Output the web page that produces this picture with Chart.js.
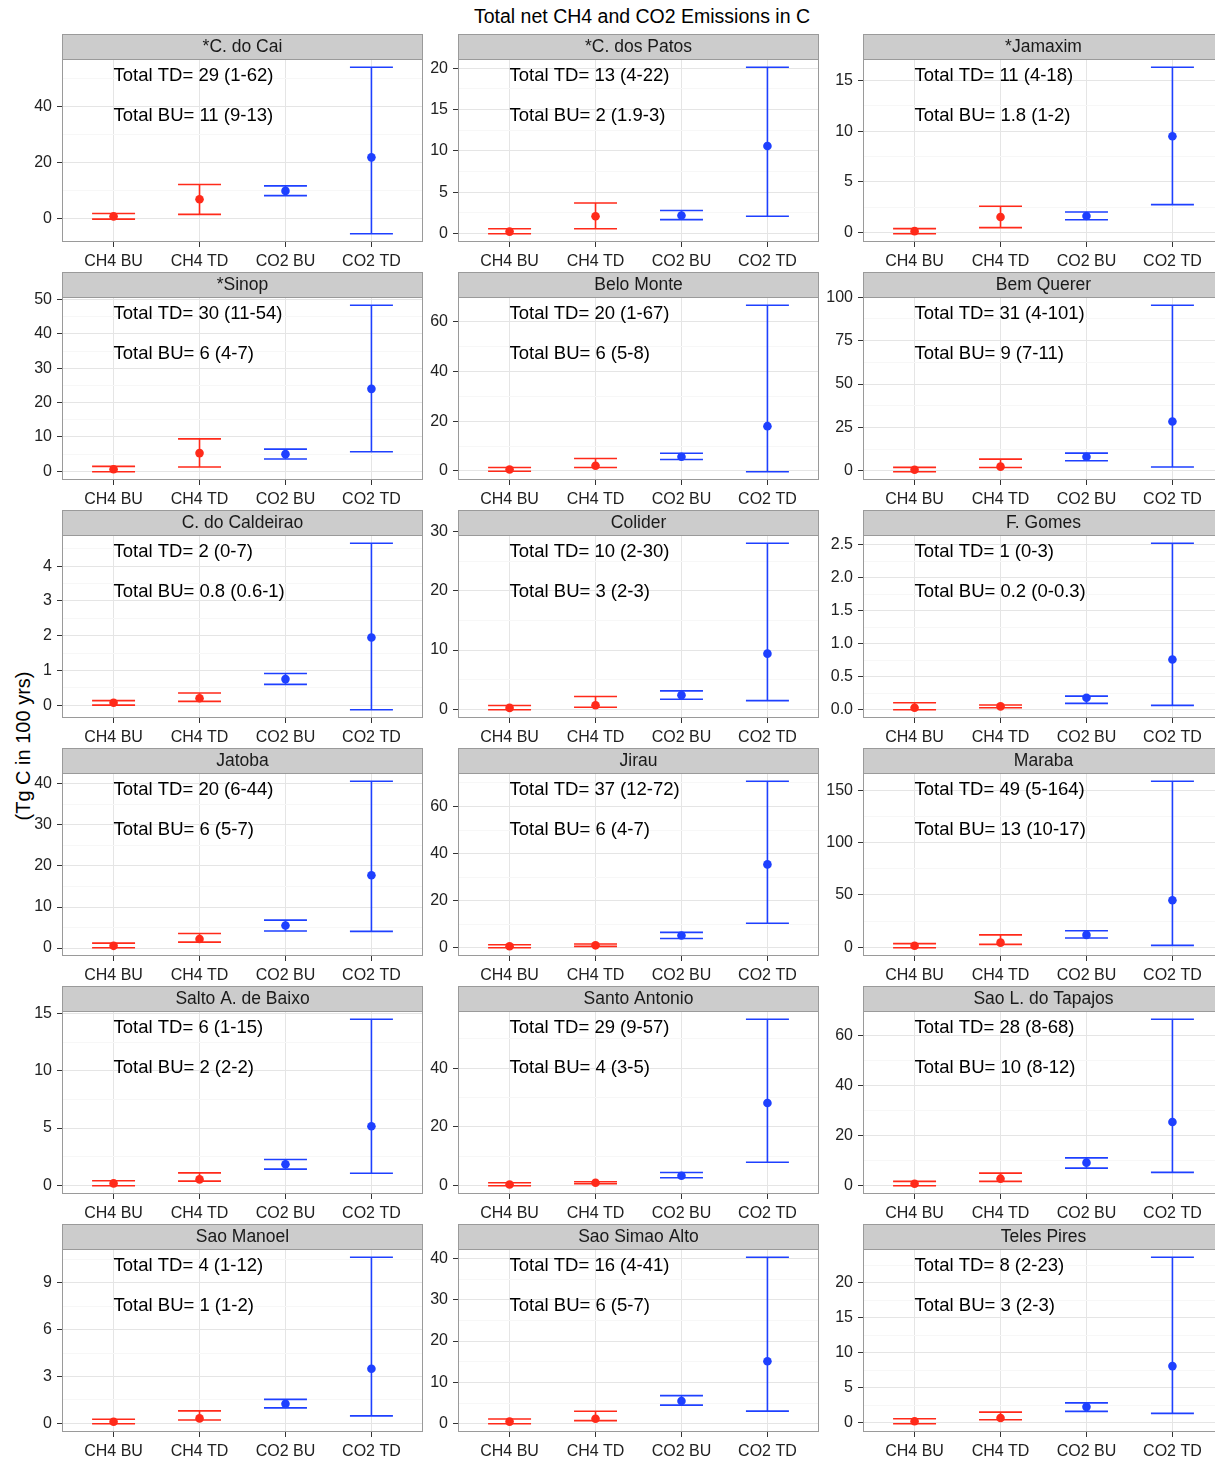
<!DOCTYPE html>
<html>
<head>
<meta charset="utf-8">
<script src="https://cdn.jsdelivr.net/npm/chart.js@4.4.1/dist/chart.umd.min.js"></script>
<style>
  html, body { margin: 0; padding: 0; background: #fff; }
  body { width: 1215px; height: 1458px; position: relative; overflow: hidden;
         font-family: "Liberation Sans", Arial, sans-serif; }
  #title { position: absolute; left: 0; top: 5px; width: 1284px; text-align: center;
           font-size: 19.5px; color: #000; }
  #ytitle { position: absolute; left: 23px; top: 746px; white-space: nowrap;
            transform: translate(-50%, -50%) rotate(-90deg); font-size: 20px; color: #000; }
  canvas { position: absolute; }
</style>
</head>
<body>
<div id="title">Total net CH4 and CO2 Emissions in C</div>
<div id="ytitle">(Tg C in 100 yrs)</div>
<script>
// Reservoirs, one facet each (3 columns x 6 rows)
const sites = [
  '*C. do Cai', '*C. dos Patos', '*Jamaxim',
  '*Sinop', 'Belo Monte', 'Bem Querer',
  'C. do Caldeirao', 'Colider', 'F. Gomes',
  'Jatoba', 'Jirau', 'Maraba',
  'Salto A. de Baixo', 'Santo Antonio', 'Sao L. do Tapajos',
  'Sao Manoel', 'Sao Simao Alto', 'Teles Pires'
];

const categories = ['CH4 BU', 'CH4 TD', 'CO2 BU', 'CO2 TD'];

// Central estimate per category (Tg C in 100 yrs)
const centre = [
  [0.7, 6.8, 9.8, 21.8],
  [0.25, 2.1, 2.2, 10.6],
  [0.15, 1.55, 1.65, 9.5],
  [0.6, 5.3, 5.0, 24.0],
  [0.6, 2.1, 5.7, 18.0],
  [0.7, 2.5, 8.2, 28.5],
  [0.07, 0.2, 0.75, 1.95],
  [0.25, 0.7, 2.4, 9.4],
  [0.03, 0.05, 0.18, 0.76],
  [0.55, 2.2, 5.5, 17.75],
  [0.6, 1.0, 5.2, 35.4],
  [1.5, 4.5, 11.9, 44.9],
  [0.17, 0.52, 1.84, 5.15],
  [0.4, 1.0, 3.4, 28.2],
  [0.8, 2.8, 9.2, 25.4],
  [0.1, 0.32, 1.25, 3.5],
  [0.5, 1.2, 5.5, 15.1],
  [0.25, 0.7, 2.3, 8.1]
];

// Lower end of each range
const lower = [
  [-0.3, 1.4, 8.1, -5.5],
  [0.0, 0.6, 1.7, 2.1],
  [-0.1, 0.5, 1.27, 2.76],
  [-0.1, 1.25, 3.6, 5.7],
  [-0.1, 1.4, 4.6, -0.3],
  [-0.4, 2.0, 5.9, 2.3],
  [0.0, 0.11, 0.6, -0.13],
  [-0.05, 0.35, 1.7, 1.47],
  [0.0, 0.03, 0.096, 0.065],
  [0.1, 1.45, 4.15, 4.08],
  [0.0, 0.56, 3.9, 10.4],
  [-0.3, 2.9, 9.0, 1.9],
  [-0.03, 0.37, 1.41, 1.06],
  [0.0, 0.68, 2.7, 8.0],
  [0.0, 1.7, 7.0, 5.3],
  [-0.02, 0.22, 0.99, 0.48],
  [0.0, 0.74, 4.5, 3.03],
  [-0.1, 0.47, 1.65, 1.37]
];

// Upper end of each range
const upper = [
  [1.7, 12.1, 11.6, 54.0],
  [0.6, 3.7, 2.8, 20.1],
  [0.4, 2.6, 2.04, 16.3],
  [1.45, 9.45, 6.45, 48.3],
  [1.4, 5.0, 7.1, 66.6],
  [2.1, 6.8, 10.3, 95.3],
  [0.13, 0.35, 0.91, 4.66],
  [0.65, 2.17, 3.12, 28.0],
  [0.105, 0.07, 0.206, 2.52],
  [1.2, 3.57, 6.8, 40.6],
  [1.26, 1.54, 6.5, 70.7],
  [3.6, 11.9, 15.8, 158.4],
  [0.4, 1.09, 2.25, 14.48],
  [1.0, 1.36, 4.5, 56.7],
  [1.7, 5.0, 11.1, 66.4],
  [0.26, 0.8, 1.54, 10.64],
  [1.15, 3.0, 6.8, 40.25],
  [0.61, 1.55, 2.87, 23.6]
];

// Totals printed inside each facet
const totalTD = [
  '29 (1-62)', '13 (4-22)', '11 (4-18)',
  '30 (11-54)', '20 (1-67)', '31 (4-101)',
  '2 (0-7)', '10 (2-30)', '1 (0-3)',
  '20 (6-44)', '37 (12-72)', '49 (5-164)',
  '6 (1-15)', '29 (9-57)', '28 (8-68)',
  '4 (1-12)', '16 (4-41)', '8 (2-23)'
];
const totalBU = [
  '11 (9-13)', '2 (1.9-3)', '1.8 (1-2)',
  '6 (4-7)', '6 (5-8)', '9 (7-11)',
  '0.8 (0.6-1)', '3 (2-3)', '0.2 (0-0.3)',
  '6 (5-7)', '6 (4-7)', '13 (10-17)',
  '2 (2-2)', '4 (3-5)', '10 (8-12)',
  '1 (1-2)', '6 (5-7)', '3 (2-3)'
];

// Labelled y ticks of each facet
const yTicks = [
  [0, 20, 40], [0, 5, 10, 15, 20], [0, 5, 10, 15],
  [0, 10, 20, 30, 40, 50], [0, 20, 40, 60], [0, 25, 50, 75, 100],
  [0, 1, 2, 3, 4], [0, 10, 20, 30], [0, 0.5, 1, 1.5, 2, 2.5],
  [0, 10, 20, 30, 40], [0, 20, 40, 60], [0, 50, 100, 150],
  [0, 5, 10, 15], [0, 20, 40], [0, 20, 40, 60],
  [0, 3, 6, 9], [0, 10, 20, 30, 40], [0, 5, 10, 15, 20]
];

const RED = '#FF2A1A', BLUE = '#1E40FF';
const seriesColour = [RED, RED, BLUE, BLUE];

const FONT = '"Liberation Sans", Arial, sans-serif';
const colLeft = [62, 458, 863];
const panelW = 361;
const rowTop = 34, rowStep = 238, stripH = 25, plotH = 183, axisW = 60, xAxisH = 34;
const MAJOR = '#E5E5E5', MINOR = '#F7F7F7', BORDER = '#9A9A9A', TICK = '#333333', LABEL = '#222222';

function facetPlugin(k) {
  return {
    id: 'facet' + k,
    beforeDatasetsDraw(chart) {
      const { ctx, scales: { x, y } } = chart;
      const half = x.getPixelForValue(0.25) - x.getPixelForValue(0);
      ctx.save();
      ctx.lineWidth = 1.6;
      categories.forEach((_, i) => {
        const px = x.getPixelForValue(i);
        const yl = y.getPixelForValue(lower[k][i]);
        const yh = y.getPixelForValue(upper[k][i]);
        ctx.strokeStyle = seriesColour[i];
        ctx.beginPath();
        ctx.moveTo(px, yl); ctx.lineTo(px, yh);
        ctx.moveTo(px - half, yl); ctx.lineTo(px + half, yl);
        ctx.moveTo(px - half, yh); ctx.lineTo(px + half, yh);
        ctx.stroke();
      });
      ctx.restore();
    },
    afterDraw(chart) {
      const { ctx, chartArea: a, scales: { x } } = chart;
      ctx.save();
      // totals
      ctx.font = '18.5px ' + FONT;
      ctx.fillStyle = '#000';
      ctx.textAlign = 'left';
      ctx.textBaseline = 'middle';
      const tx = x.getPixelForValue(0);
      ctx.fillText('Total TD= ' + totalTD[k], tx, a.top + 17);
      ctx.fillText('Total BU= ' + totalBU[k], tx, a.top + 57);
      // panel border
      ctx.strokeStyle = BORDER;
      ctx.lineWidth = 1;
      ctx.strokeRect(a.left + 0.5, a.top + 0.5, a.right - a.left - 1, a.bottom - a.top - 1);
      // strip
      ctx.fillStyle = '#CCCCCC';
      ctx.fillRect(a.left, 0, a.right - a.left, a.top);
      ctx.strokeRect(a.left + 0.5, 0.5, a.right - a.left - 1, a.top);
      ctx.fillStyle = '#1A1A1A';
      ctx.font = '17.5px ' + FONT;
      ctx.textAlign = 'center';
      ctx.fillText(sites[k], (a.left + a.right) / 2, a.top / 2 + 1);
      ctx.restore();
    }
  };
}

function makeFacet(k) {
  const r = Math.floor(k / 3), c = k % 3;
  const w = axisW + panelW, h = stripH + plotH + xAxisH;
  const canvas = document.createElement('canvas');
  canvas.width = w; canvas.height = h;
  canvas.style.width = w + 'px'; canvas.style.height = h + 'px';
  canvas.style.left = (colLeft[c] - axisW) + 'px';
  canvas.style.top = (rowTop + r * rowStep) + 'px';
  document.body.appendChild(canvas);

  const lo = Math.min(...lower[k], ...centre[k]);
  const hi = Math.max(...upper[k], ...centre[k]);
  const pad = (hi - lo) * 0.05;
  const yMin = lo - pad, yMax = hi + pad;
  const majors = yTicks[k];
  const step = majors[1] - majors[0];
  const decimals = step < 1 ? 1 : 0;
  const minors = [];
  for (let v = majors[0] - step / 2; v <= yMax; v += step) {
    if (v >= yMin) minors.push(v);
  }
  const isMajor = v => majors.some(m => Math.abs(m - v) < 1e-9);
  const allTicks = majors.concat(minors).sort((a, b) => a - b);

  new Chart(canvas, {
    type: 'scatter',
    data: {
      datasets: [{
        data: centre[k].map((v, i) => ({ x: i, y: v })),
        pointBackgroundColor: seriesColour,
        pointBorderWidth: 0,
        pointRadius: 4.3,
        pointHoverRadius: 4.3
      }]
    },
    options: {
      responsive: false,
      animation: false,
      events: [],
      layout: { autoPadding: false, padding: { top: stripH, left: 0, right: 0, bottom: 0 } },
      plugins: { legend: { display: false }, tooltip: { enabled: false }, title: { display: false } },
      scales: {
        x: {
          type: 'linear', min: -0.6, max: 3.6,
          afterBuildTicks: s => { s.ticks = categories.map((_, i) => ({ value: i })); },
          afterFit: s => { s.height = xAxisH; s.paddingLeft = 0; s.paddingRight = 0; },
          ticks: { autoSkip: false, maxRotation: 0, padding: 5, color: LABEL,
                   font: { family: FONT, size: 16 }, callback: v => categories[v] ?? '' },
          grid: { color: MAJOR, lineWidth: 1, tickLength: 5, tickColor: TICK, tickWidth: 1 },
          border: { display: false }
        },
        y: {
          type: 'linear', min: yMin, max: yMax,
          afterBuildTicks: s => { s.ticks = allTicks.map(v => ({ value: v })); },
          afterFit: s => { s.width = axisW; s.paddingTop = 0; s.paddingBottom = 0; },
          ticks: { autoSkip: false, padding: 5, color: LABEL, font: { family: FONT, size: 16 },
                   callback: v => isMajor(v) ? v.toFixed(decimals) : '' },
          grid: {
            color: ctx => isMajor(ctx.tick.value) ? MAJOR : MINOR,
            tickColor: ctx => isMajor(ctx.tick.value) ? TICK : 'rgba(0,0,0,0)',
            lineWidth: 1, tickLength: 5, tickWidth: 1
          },
          border: { display: false }
        }
      }
    },
    plugins: [facetPlugin(k)]
  });
}

sites.forEach((_, k) => makeFacet(k));
</script>
</body>
</html>
